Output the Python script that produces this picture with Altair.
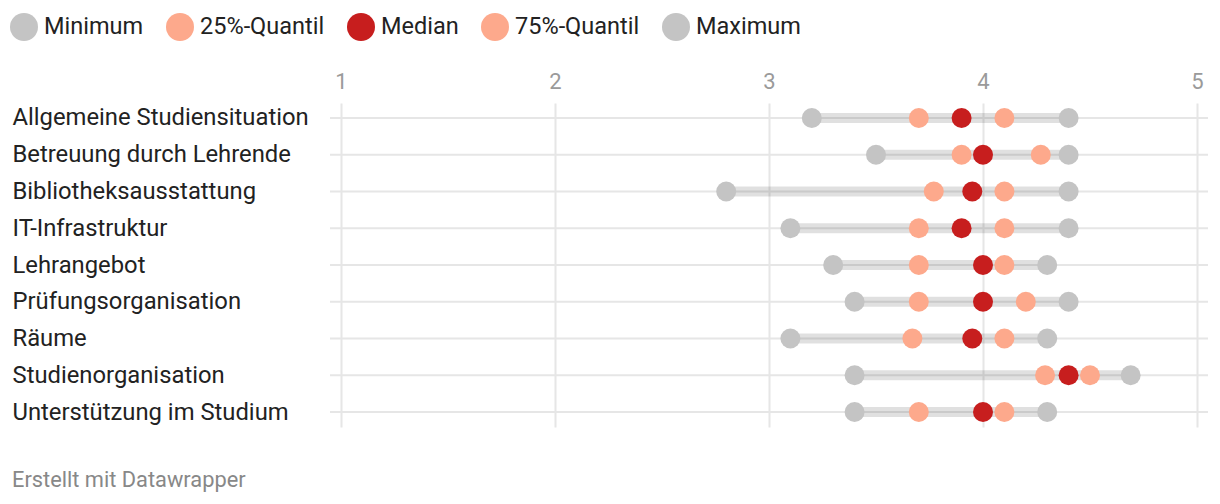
import altair as alt
import pandas as pd

categories = [
    "Allgemeine Studiensituation",
    "Betreuung durch Lehrende",
    "Bibliotheksausstattung",
    "IT-Infrastruktur",
    "Lehrangebot",
    "Prüfungsorganisation",
    "Räume",
    "Studienorganisation",
    "Unterstützung im Studium",
]
minimum = [3.2, 3.5, 2.8, 3.1, 3.3, 3.4, 3.1, 3.4, 3.4]
q25 = [3.7, 3.9, 3.77, 3.7, 3.7, 3.7, 3.67, 4.29, 3.7]
median = [3.9, 4.0, 3.95, 3.9, 4.0, 4.0, 3.95, 4.4, 4.0]
q75 = [4.1, 4.27, 4.1, 4.1, 4.1, 4.2, 4.1, 4.5, 4.1]
maximum = [4.4, 4.4, 4.4, 4.4, 4.3, 4.4, 4.3, 4.69, 4.3]

stat_names = ["Minimum", "25%-Quantil", "Median", "75%-Quantil", "Maximum"]
stat_colors = ["#c4c4c4", "#fda98c", "#c71e1e", "#fda98c", "#c4c4c4"]
x_ticks = [1, 2, 3, 4, 5]

FONT = "Roboto"
Y_PAD = 0.408

range_df = pd.DataFrame({"cat": categories, "min": minimum, "max": maximum})

series = {
    "Minimum": minimum,
    "Maximum": maximum,
    "25%-Quantil": q25,
    "75%-Quantil": q75,
    "Median": median,
}
rows = []
for z, (name, vals) in enumerate(series.items()):
    for c, v in zip(categories, vals):
        rows.append({"cat": c, "stat": name, "value": v, "z": z})
points_df = pd.DataFrame(rows)

y_scale = alt.Scale(type="point", padding=Y_PAD)

y_axis = alt.Axis(
    title=None,
    orient="left",
    labelAlign="left",
    labelBaseline="middle",
    labelPadding=329,
    labelFontSize=23.8,
    labelFont=FONT,
    labelColor="#222222",
    labelLimit=400,
    ticks=False,
    tickSize=0,
    domain=False,
    grid=False,
)

x_axis = alt.Axis(
    title=None,
    orient="top",
    values=x_ticks,
    labelFontSize=22,
    labelFont=FONT,
    labelColor="#9a9a9a",
    labelPadding=10,
    labelFlush=False,
    ticks=False,
    tickSize=0,
    domain=False,
    grid=True,
    gridColor="#e6e6e6",
    gridWidth=2,
    format="d",
)

x_scale = alt.Scale(domain=[1, 5], nice=False, zero=False)

grid_rows = alt.Chart(range_df).mark_rule(color="#e6e6e6", strokeWidth=2).encode(
    y=alt.Y("cat:N", sort=categories, scale=y_scale, axis=y_axis),
    x=alt.value(-11),
    x2=alt.value(867),
)

bars = alt.Chart(range_df).mark_rule(color="#000000", opacity=0.12, strokeWidth=10).encode(
    y=alt.Y("cat:N", sort=categories, scale=y_scale, axis=y_axis),
    x=alt.X("min:Q", scale=x_scale, axis=x_axis),
    x2="max:Q",
)

points = alt.Chart(points_df).mark_point(filled=True, shape="circle", size=400, opacity=1).encode(
    y=alt.Y("cat:N", sort=categories, scale=y_scale, axis=y_axis),
    x=alt.X("value:Q", scale=x_scale, axis=x_axis),
    color=alt.Color(
        "stat:N",
        scale=alt.Scale(domain=stat_names, range=stat_colors),
        legend=alt.Legend(
            title=None,
            orient="none",
            direction="horizontal",
            legendX=-331,
            legendY=-90,
            symbolType="circle",
            symbolSize=784,
            symbolStrokeWidth=0,
            symbolOpacity=1,
            labelFontSize=23.5,
            labelFont=FONT,
            labelColor="#222222",
            labelOffset=6,
            columnPadding=22,
            padding=0,
            labelLimit=300,
        ),
    ),
    order=alt.Order("z:Q"),
)

chart = (
    alt.layer(grid_rows, bars, points)
    .properties(
        width=856,
        height=324,
        autosize=alt.AutoSizeParams(type="none"),
        padding={"left": 341, "top": 103, "right": 23, "bottom": 77},
        title=alt.TitleParams(
            text="Erstellt mit Datawrapper",
            orient="bottom",
            anchor="start",
            frame="group",
            dx=-329,
            offset=43,
            fontSize=21.8,
            font=FONT,
            fontWeight="normal",
            color="#888888",
        ),
    )
    .configure(background="white")
    .configure_view(strokeWidth=0, stroke=None)
    .configure_axis(domain=False, ticks=False)
)

chart.save("out.html", embed_options={"renderer": "svg", "actions": False})
